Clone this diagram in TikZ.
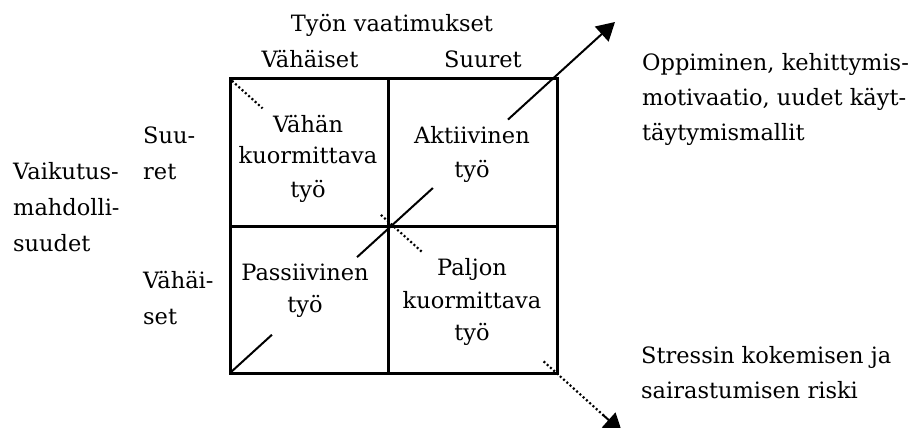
\documentclass[tikz,border=0pt]{standalone}
\usepackage{fontspec}
\setmainfont{DejaVu Serif}
\usetikzlibrary{arrows.meta,calc}

\tikzset{
  txt/.style={inner sep=0pt, font=\fontsize{22.5}{34}\selectfont},
  lft/.style={txt, anchor=base west},
  mid/.style={txt, anchor=base},
  frame/.style={line width=3pt, line cap=rect},
  solidaxis/.style={line width=2pt},
  dotaxis/.style={line width=2.2pt, dash pattern=on 2pt off 2.4pt},
  headtip/.style={-{Triangle[length=18pt,width=20pt]}}
}

\begin{document}
\begin{tikzpicture}[x=1pt,y=-1pt]
\useasboundingbox (0,0) rectangle (914,428);
\clip (0,0) rectangle (914,428);

% four-field grid
\coordinate (tl) at (230,79);
\coordinate (br) at (557,373);
\coordinate (tr) at (557,79);
\coordinate (bl) at (230,373);
\coordinate (c) at (388,226);
\draw[frame] (tl) rectangle (br);
\draw[frame] (c |- tl) -- (c |- br);
\draw[frame] (c -| tl) -- (c -| br);

% axis ends
\coordinate (up) at (615,22);
\coordinate (down) at (622,432);

% rising solid axis, broken around the field texts
\draw[solidaxis] (bl) -- ($(bl)!0.109!(up)$);
\draw[solidaxis] ($(bl)!0.33!(up)$) -- ($(bl)!0.527!(up)$);
\draw[solidaxis, headtip] ($(bl)!0.722!(up)$) -- (up);

% falling dotted axis
\draw[dotaxis] ($(tl)!0.005!(down)$) -- ($(tl)!0.083!(down)$);
\draw[dotaxis] ($(tl)!0.385!(down)$) -- ($(tl)!0.49!(down)$);
\draw[dotaxis] ($(tl)!0.80!(down)$) -- ($(tl)!0.955!(down)$);
\draw[solidaxis, headtip] ($(tl)!0.95!(down)$) -- (down);

% column headings
\node[mid] (t1) at (392,32) {Työn vaatimukset};
\node[mid] (t2) at (310,68) {Vähäiset};
\node[mid] (t3) at (483,68) {Suuret};

% row headings
\node[lft] (v1) at (13,179) {Vaikutus-};
\node[lft] (v2) at (13,215) {mahdolli-};
\node[lft] (v3) at (13,251) {suudet};
\node[lft] (s1) at (143,143) {Suu-};
\node[lft] (s2) at (143,179) {ret};
\node[lft] (h1) at (143,288) {Vähäi-};
\node[lft] (h2) at (143,324) {set};

% field texts
\node[mid] (a1) at (308,132) {Vähän};
\node[mid] (a2) at (308,164) {kuormittava};
\node[mid] (a3) at (308,197) {työ};
\node[mid] (b1) at (472,143) {Aktiivinen};
\node[mid] (b2) at (472,177) {työ};
\node[mid] (p1) at (305,280) {Passiivinen};
\node[mid] (p2) at (305,312) {työ};
\node[mid] (q1) at (472,275) {Paljon};
\node[mid] (q2) at (472,308) {kuormittava};
\node[mid] (q3) at (472,340) {työ};

% outcomes
\node[lft] (o1) at (642,71) {Oppiminen, kehittymis-};
\node[lft] (o2) at (642,106) {motivaatio, uudet käyt-};
\node[lft] (o3) at (642,140) {täytymismallit};
\node[lft] (r1) at (641,363) {Stressin kokemisen ja};
\node[lft] (r2) at (641,398) {sairastumisen riski};
\end{tikzpicture}
\end{document}
